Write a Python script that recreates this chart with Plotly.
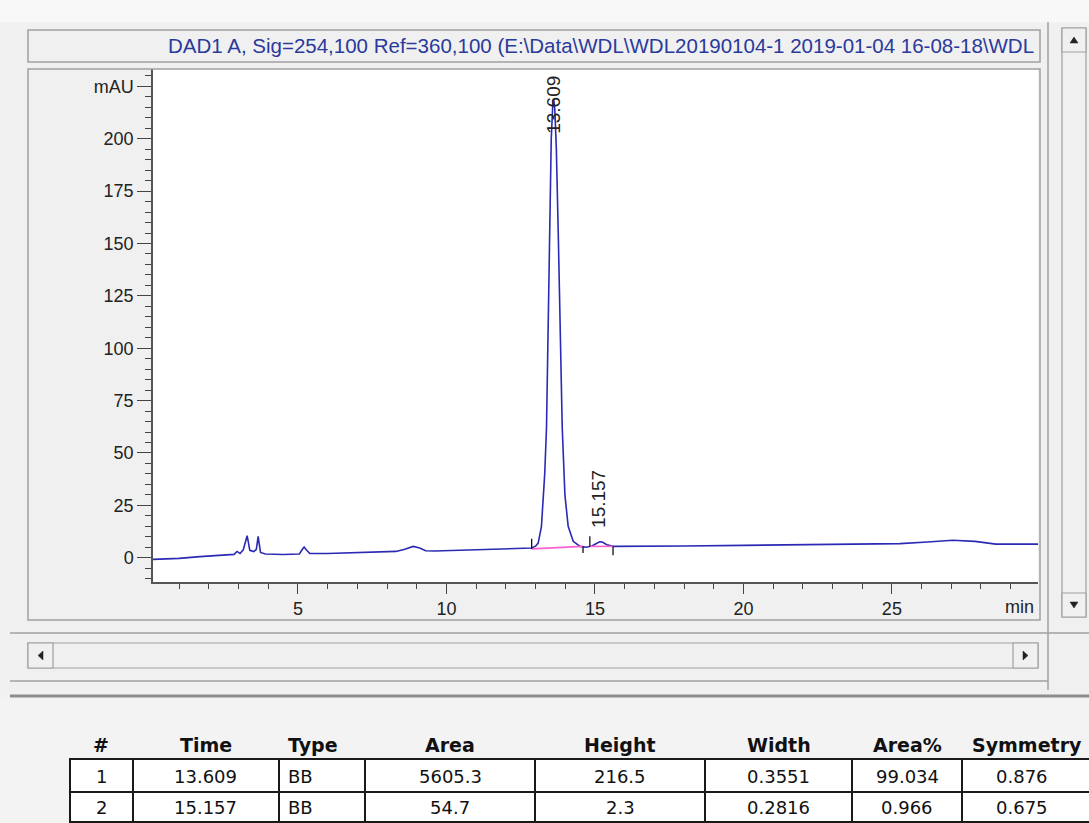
import plotly.graph_objects as go

# ---------------- data ----------------
time_min = [0.12, 1.0, 1.7, 2.5, 2.85, 2.95, 3.05, 3.16, 3.29, 3.38, 3.51, 3.60, 3.66, 3.74,
            3.9, 4.5, 5.05, 5.15, 5.21, 5.28, 5.4, 6.0, 7.0, 7.6, 8.3, 8.6, 8.88, 9.1, 9.3,
            9.6, 10.5, 11.35, 12.0, 12.5, 12.87, 13.0, 13.09, 13.2, 13.31, 13.37, 13.43,
            13.48, 13.53, 13.58, 13.61, 13.65, 13.70, 13.77, 13.83, 13.90, 13.99, 14.10,
            14.27, 14.50, 14.70, 14.90, 15.05, 15.16, 15.25, 15.40, 15.61, 16.5, 18.0,
            20.0, 21.9, 23.5, 25.27, 26.2, 27.05, 27.8, 28.5, 29.92]
signal_mau = [-0.8, -0.3, 0.5, 1.2, 1.6, 3.0, 2.0, 3.8, 10.5, 3.5, 2.9, 4.0, 10.2, 2.5,
              1.8, 1.5, 1.8, 4.0, 5.1, 3.8, 2.0, 2.0, 2.4, 2.7, 3.0, 4.0, 5.4, 4.6, 3.3,
              3.2, 3.5, 3.8, 4.1, 4.3, 4.6, 5.5, 7.0, 15.0, 40.0, 62.0, 108.0,
              160.0, 200.0, 216.0, 219.0, 214.0, 196.0, 152.0, 108.0, 62.0, 30.0, 15.0,
              7.8, 5.4, 5.0, 5.6, 6.8, 7.6, 7.5, 6.2, 5.4, 5.4, 5.6,
              5.9, 6.2, 6.4, 6.7, 7.5, 8.3, 7.8, 6.5, 6.5]

# integration baselines (pink)
baseline_t = [[12.87, 14.60], [14.83, 15.61]]
baseline_v = [[4.2, 5.4], [5.4, 5.4]]

# peak start / end markers
marker_t = [12.87, 14.60, 14.83, 15.61]
marker_lo = [4.2, 2.2, 5.4, 1.2]
marker_hi = [9.0, 5.4, 10.2, 5.4]

peak_rt = [13.609, 15.157]
peak_label = ["13.609", "15.157"]
peak_label_x = [13.609, 15.10]
peak_label_y = [216.0, 28.0]

y_major = [0, 25, 50, 75, 100, 125, 150, 175, 200, 225]
y_major_text = ["0", "25", "50", "75", "100", "125", "150", "175", "200", "mAU"]
x_major = [5, 10, 15, 20, 25]

title_text = "DAD1 A, Sig=254,100 Ref=360,100 (E:\\Data\\WDL\\WDL20190104-1 2019-01-04 16-08-18\\WDL"

tbl_headers = ["#", "Time", "Type", "Area", "Height", "Width", "Area%", "Symmetry"]
tbl_num = ["1", "2"]
tbl_time = ["13.609", "15.157"]
tbl_type = ["BB", "BB"]
tbl_area = ["5605.3", "54.7"]
tbl_height = ["216.5", "2.3"]
tbl_width = ["0.3551", "0.2816"]
tbl_areapct = ["99.034", "0.966"]
tbl_sym = ["0.876", "0.675"]

# ---------------- geometry helpers ----------------
W, H = 1089, 823
def X(x):
    return x / W
def Y(y):
    return 1 - y / H

fig = go.Figure()

fig.add_trace(go.Scatter(x=time_min, y=signal_mau, mode="lines",
                         line=dict(color="#2a2ab4", width=1.6), hoverinfo="skip",
                         showlegend=False))
for bt, bv in zip(baseline_t, baseline_v):
    fig.add_trace(go.Scatter(x=bt, y=bv, mode="lines",
                             line=dict(color="#ff5fd0", width=1.6),
                             hoverinfo="skip", showlegend=False))

shapes = []
annotations = []

# peak markers
for t, lo, hi in zip(marker_t, marker_lo, marker_hi):
    shapes.append(dict(type="line", xref="x", yref="y", x0=t, x1=t, y0=lo, y1=hi,
                       line=dict(color="#111", width=1.3)))

# peak labels
for lx, ly, lab in zip(peak_label_x, peak_label_y, peak_label):
    annotations.append(dict(xref="x", yref="y", x=lx, y=ly, text=lab, textangle=-90,
                            showarrow=False, xanchor="center", yanchor="middle",
                            font=dict(family="Liberation Sans", size=19, color="#222")))

GRAY = "#a0a0a0"

def rect(x0, y0, x1, y1, fill=None, color=GRAY, width=1):
    d = dict(type="rect", xref="paper", yref="paper", x0=X(x0), x1=X(x1), y0=Y(y1), y1=Y(y0),
             line=dict(color=color, width=width))
    if fill:
        d["fillcolor"] = fill
    return d

def hline(x0, x1, y, color=GRAY, width=1):
    return dict(type="line", xref="paper", yref="paper", x0=X(x0), x1=X(x1), y0=Y(y), y1=Y(y),
                line=dict(color=color, width=width))

def vline(x, y0, y1, color=GRAY, width=1):
    return dict(type="line", xref="paper", yref="paper", x0=X(x), x1=X(x), y0=Y(y0), y1=Y(y1),
                line=dict(color=color, width=width))

def tri(points, color="#222"):
    path = "M " + " L ".join(f"{X(px)},{Y(py)}" for px, py in points) + " Z"
    return dict(type="path", xref="paper", yref="paper", path=path, fillcolor=color,
                line=dict(color=color, width=0.5))

# window chrome
shapes.append(rect(0, 0, 1089, 22, fill="#f8f8f8", color="#f8f8f8"))
shapes.append(rect(28, 30, 1040, 62, color=GRAY, width=1.5))
shapes.append(rect(28, 69, 1040, 620, color=GRAY, width=1.5))
shapes.append(vline(1048, 22, 690, color=GRAY, width=1.5))
# vertical scrollbar
shapes.append(rect(1062, 28, 1086, 617, fill="#f0f0f0", color=GRAY, width=1.2))
shapes.append(rect(1062, 28, 1086, 52, fill="#f0f0f0", color=GRAY, width=1.2))
shapes.append(rect(1062, 593, 1086, 617, fill="#f0f0f0", color=GRAY, width=1.2))
shapes.append(tri([(1070, 43), (1078, 43), (1074, 37)]))
shapes.append(tri([(1070, 602), (1078, 602), (1074, 608)]))
# separators
shapes.append(hline(10, 1089, 633, color=GRAY, width=1.5))
# horizontal scrollbar
shapes.append(rect(28, 643, 1038, 668, fill="#f0f0f0", color=GRAY, width=1.2))
shapes.append(rect(28, 643, 53, 668, fill="#f0f0f0", color=GRAY, width=1.2))
shapes.append(rect(1013, 643, 1038, 668, fill="#f0f0f0", color=GRAY, width=1.2))
shapes.append(tri([(43, 651), (43, 660), (38, 655.5)]))
shapes.append(tri([(1023, 651), (1023, 660), (1028, 655.5)]))
shapes.append(hline(10, 1048, 681, color=GRAY, width=1.5))
shapes.append(rect(0, 697, 1089, 823, fill="#f3f3f3", color="#f3f3f3", width=0))
shapes.append(hline(10, 1089, 696, color="#8c8c8c", width=3))

# title text
annotations.append(dict(xref="paper", yref="paper", x=X(1036), y=Y(46), text=title_text,
                        showarrow=False, xanchor="right", yanchor="middle",
                        font=dict(family="Liberation Sans", size=20.5, color="#2a3a9c")))
# "min" axis label
annotations.append(dict(xref="paper", yref="paper", x=X(1036), y=Y(607), text="min",
                        showarrow=False, xanchor="right", yanchor="middle",
                        font=dict(family="Liberation Sans", size=18, color="#222")))

# results table
col_edges = [70, 133, 279, 365, 535, 705, 852, 962, 1095]
shapes.append(rect(70, 759, 1095, 830, fill="white", color="#1a1a1a", width=2))
for cx in col_edges[1:-1]:
    shapes.append(vline(cx, 759, 830, color="#1a1a1a", width=2))
shapes.append(hline(70, 1095, 792, color="#1a1a1a", width=2))
shapes.append(hline(70, 1095, 822, color="#1a1a1a", width=2))

centers = [(a + b) / 2 for a, b in zip(col_edges[:-1], col_edges[1:])]
centers[-1] = 1022
header_x = list(centers)
header_x[-1] = 1027
columns = [tbl_num, tbl_time, tbl_type, tbl_area, tbl_height, tbl_width, tbl_areapct, tbl_sym]
for i, h in enumerate(tbl_headers):
    left = (h == "Type")
    annotations.append(dict(xref="paper", yref="paper", x=X(286 if left else header_x[i]),
                            y=Y(745), text=f"<b>{h}</b>", showarrow=False,
                            xanchor="left" if left else "center", yanchor="middle",
                            font=dict(family="DejaVu Sans", size=19, color="#111")))
row_y = [776, 807]
for i, col in enumerate(columns):
    left = (tbl_headers[i] == "Type")
    for r, val in enumerate(col):
        annotations.append(dict(xref="paper", yref="paper", x=X(286 if left else centers[i]),
                                y=Y(row_y[r]), text=val, showarrow=False,
                                xanchor="left" if left else "center", yanchor="middle",
                                font=dict(family="DejaVu Sans", size=18, color="#111")))

y_minor = [v for v in range(-10, 235, 5) if v % 25 != 0]
x_minor = [v for v in range(1, 30) if v % 5 != 0]

fig.update_layout(
    width=W, height=H,
    margin=dict(l=0, r=0, t=0, b=0, autoexpand=False),
    paper_bgcolor="#f0f0f0", plot_bgcolor="white",
    showlegend=False,
    shapes=shapes, annotations=annotations,
    xaxis=dict(domain=[X(153), X(1038)], range=[0.12, 29.92], tickmode="array",
               tickvals=x_major, ticks="outside", ticklen=10, tickwidth=1, tickcolor="#444",
               showline=True, linecolor="#555", linewidth=1.5, showgrid=False, zeroline=False,
               tickfont=dict(family="Liberation Sans", size=18, color="#222"),
               minor=dict(tickmode="array", tickvals=x_minor, ticks="outside", ticklen=5,
                          tickwidth=1, tickcolor="#444", showgrid=False),
               fixedrange=True),
    yaxis=dict(domain=[Y(582), Y(69)], range=[-11.6, 233.3], tickmode="array",
               tickvals=y_major, ticktext=y_major_text, ticks="outside", ticklen=14,
               tickwidth=1, tickcolor="#444", showline=True, linecolor="#555", linewidth=1.5,
               showgrid=False, zeroline=False,
               tickfont=dict(family="Liberation Sans", size=18, color="#222"),
               minor=dict(tickmode="array", tickvals=y_minor, ticks="outside", ticklen=6,
                          tickwidth=1, tickcolor="#444", showgrid=False),
               fixedrange=True),
)

fig.write_html("out.html", config={"displayModeBar": False},
               post_script="document.body.style.margin='0';document.body.style.padding='0';"
                           "document.body.style.overflow='hidden';")
